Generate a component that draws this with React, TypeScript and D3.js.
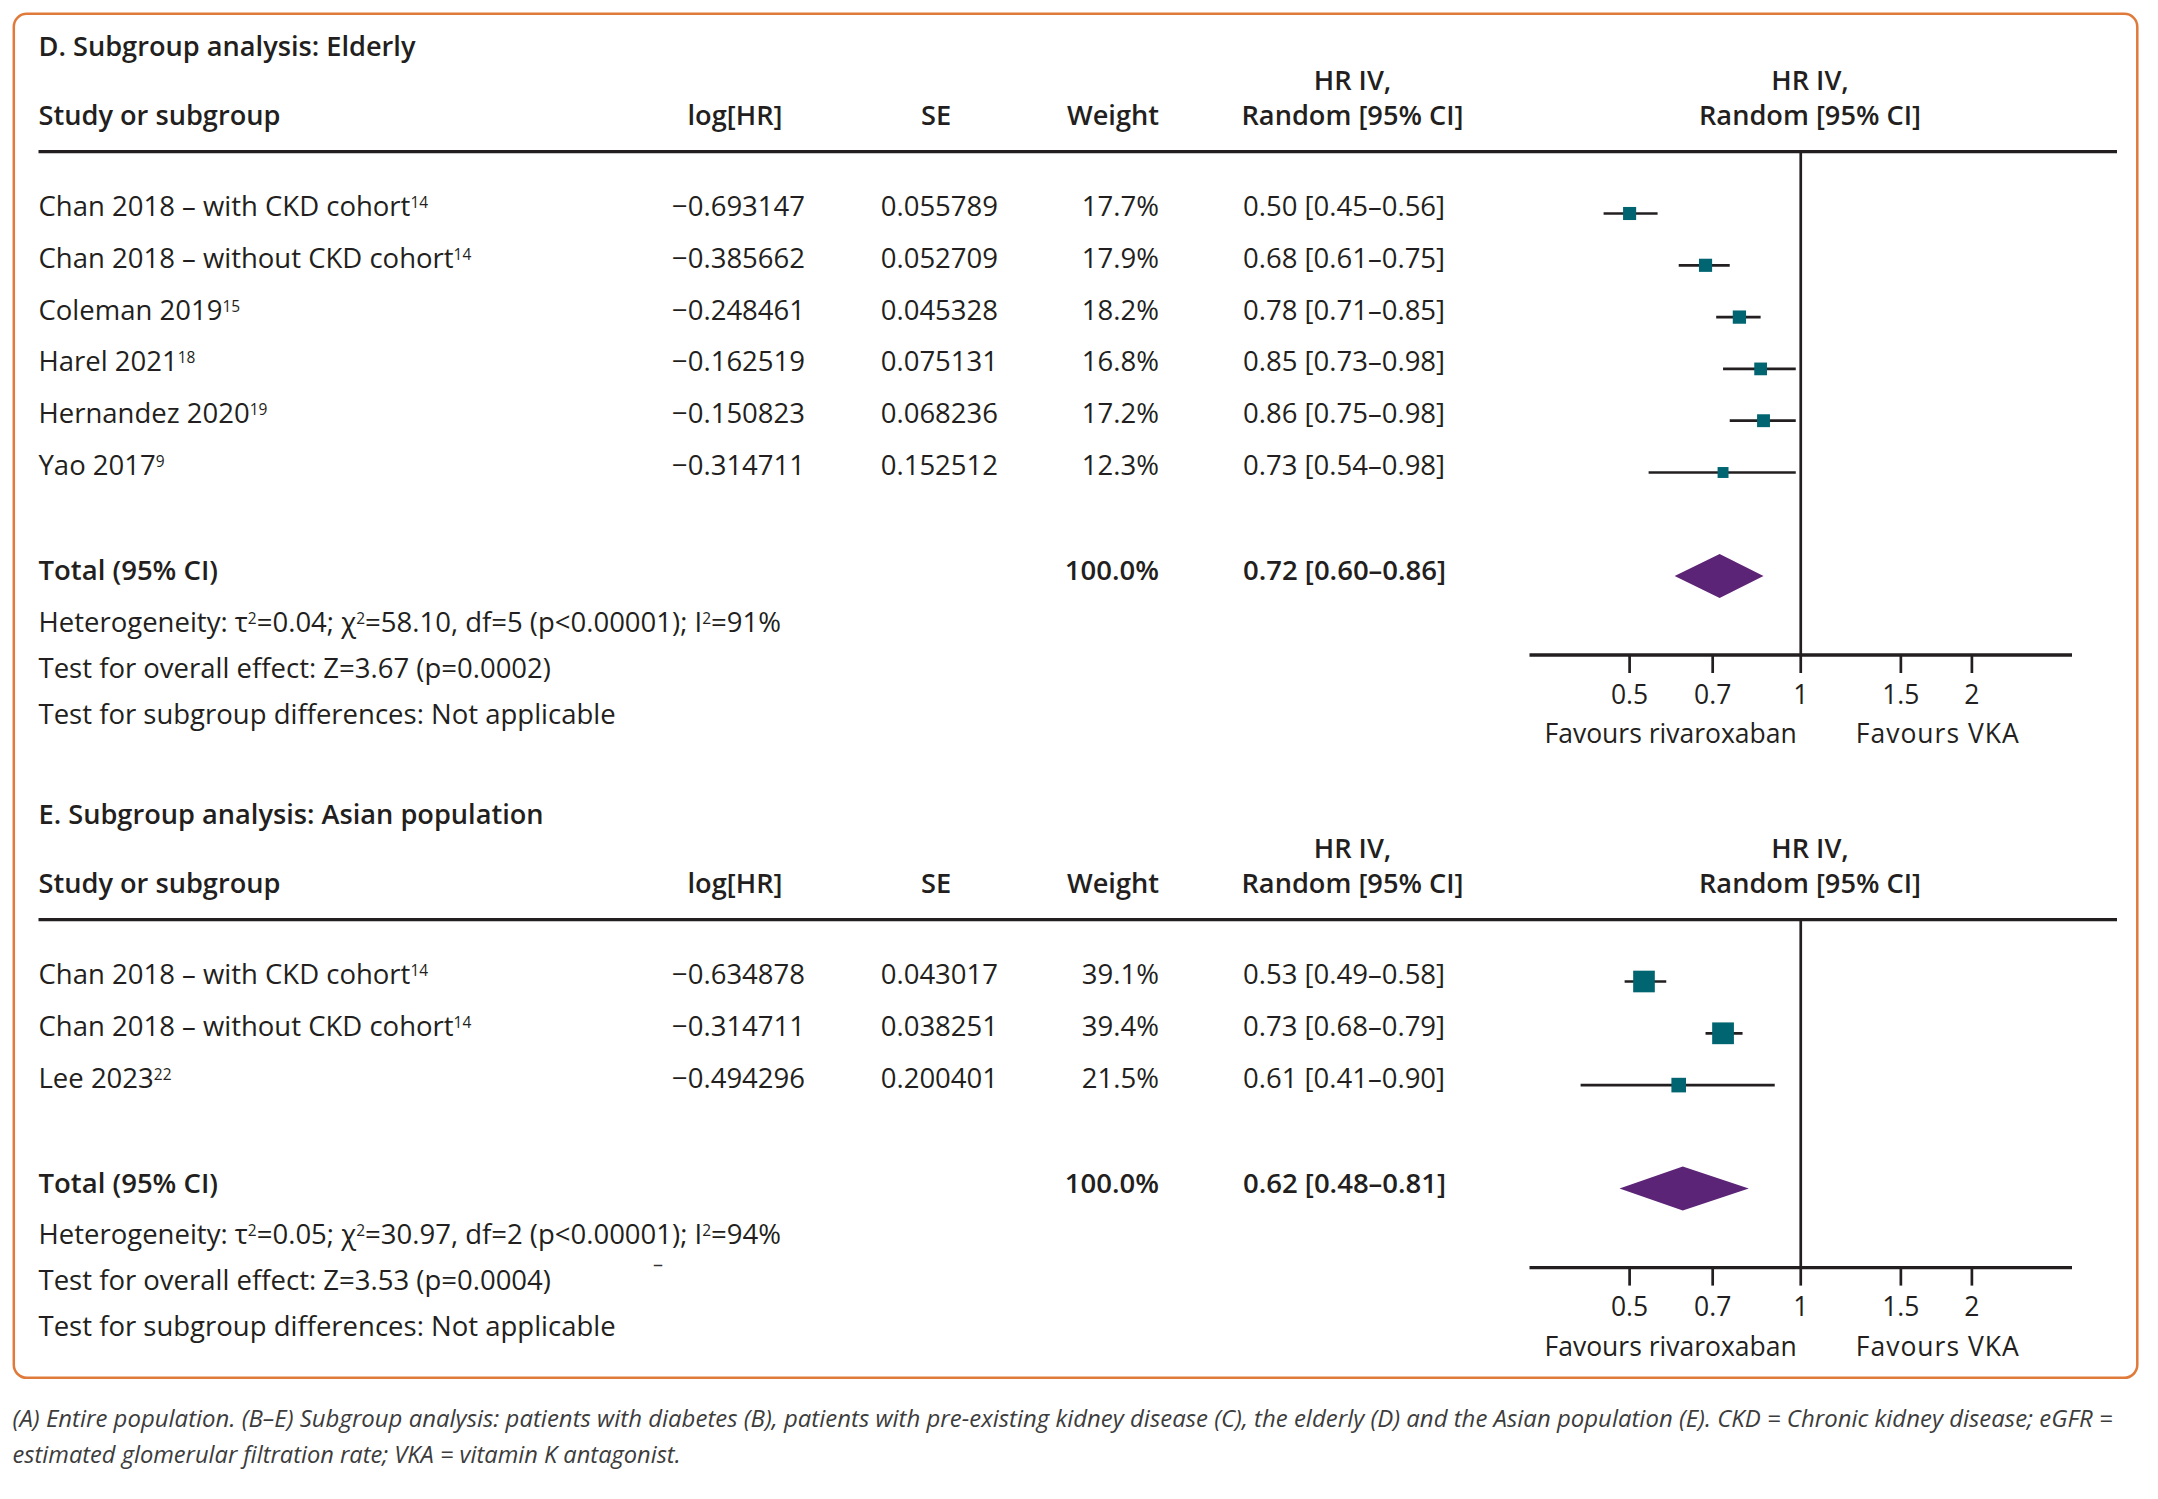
import React from "react";
import * as d3 from "d3";

// ---------- Data ----------
const elderlyStudies = [
  "Chan 2018 – with CKD cohort",
  "Chan 2018 – without CKD cohort",
  "Coleman 2019",
  "Harel 2021",
  "Hernandez 2020",
  "Yao 2017",
];
const elderlyRefs = ["14", "14", "15", "18", "19", "9"];
const elderlyLogHR = [-0.693147, -0.385662, -0.248461, -0.162519, -0.150823, -0.314711];
const elderlySE = [0.055789, 0.052709, 0.045328, 0.075131, 0.068236, 0.152512];
const elderlyWeight = [17.7, 17.9, 18.2, 16.8, 17.2, 12.3];
const elderlyHR = [0.5, 0.68, 0.78, 0.85, 0.86, 0.73];
const elderlyLow = [0.45, 0.61, 0.71, 0.73, 0.75, 0.54];
const elderlyHigh = [0.56, 0.75, 0.85, 0.98, 0.98, 0.98];
const elderlyTotal = [0.72, 0.6, 0.86];
const elderlyHet = ["0.04", "58.10", "5", "<0.00001", "91"];
const elderlyOverall = ["3.67", "0.0002"];

const asianStudies = [
  "Chan 2018 – with CKD cohort",
  "Chan 2018 – without CKD cohort",
  "Lee 2023",
];
const asianRefs = ["14", "14", "22"];
const asianLogHR = [-0.634878, -0.314711, -0.494296];
const asianSE = [0.043017, 0.038251, 0.200401];
const asianWeight = [39.1, 39.4, 21.5];
const asianHR = [0.53, 0.73, 0.61];
const asianLow = [0.49, 0.68, 0.41];
const asianHigh = [0.58, 0.79, 0.9];
const asianTotal = [0.62, 0.48, 0.81];
const asianHet = ["0.05", "30.97", "2", "<0.00001", "94"];
const asianOverall = ["3.53", "0.0004"];

const axisTicks = [0.5, 0.7, 1, 1.5, 2];
const axisTickLabels = ["0.5", "0.7", "1", "1.5", "2"];

const captionLines = [
  "(A) Entire population. (B–E) Subgroup analysis: patients with diabetes (B), patients with pre-existing kidney disease (C), the elderly (D) and the Asian population (E). CKD = Chronic kidney disease; eGFR =",
  "estimated glomerular filtration rate; VKA = vitamin K antagonist.",
];

// ---------- Style ----------
const FONT = "'Open Sans', sans-serif";
const INK = "#231f20";
const TEAL = "#006571";
const PURPLE = "#5c2476";
const ORANGE = "#e07a3a";

const W = 2158;
const H = 1499;

const fmtLog = d3.format(".6f");
const fmtSE = d3.format(".6f");
const fmtW = d3.format(".1f");
const fmtHR = d3.format(".2f");

const xScale = d3.scaleLog().domain([1 / 3, 3]).range([1529.5, 2072]);
const sizeScale = d3.scaleLinear().domain([10, 40]).range([10, 22]);

const BODY = 27.5;
const HEAD = 27.2;
const HEADW = 600;
const SUP = 15.5;

type PanelProps = {
  oy: number;
  title: string;
  studies: string[];
  refs: string[];
  logHR: number[];
  se: number[];
  weight: number[];
  hr: number[];
  low: number[];
  high: number[];
  total: number[];
  het: string[];
  overall: string[];
};

function Sup({ children }: { children: React.ReactNode }) {
  return (
    <tspan dy={-8} fontSize={SUP}>
      {children}
    </tspan>
  );
}

function Panel(p: PanelProps) {
  const { oy } = p;
  const n = p.studies.length;
  const rowY = d3.scaleLinear().domain([0, 1]).range([216 + oy, 216 + oy + 51.8]);
  const headerLineY = 151.7 + oy;
  const totalY = rowY(n - 1) + 105;
  const hetY = totalY + 51.5;
  const overallY = hetY + 46;
  const subY = overallY + 46;
  const axisY = totalY + 75;
  const x1 = xScale(1);
  const [tHR, tLo, tHi] = p.total;
  const dy = totalY - 4;
  const dh = 22;
  const diamond = [
    [xScale(tLo), dy],
    [xScale(tHR), dy - dh],
    [xScale(tHi), dy],
    [xScale(tHR), dy + dh],
  ];
  const [tau, chi, df, pv, i2] = p.het;
  return (
    <g>
      <text x={38.5} y={56 + oy} fontWeight={HEADW} fontSize={HEAD} fill={INK}>
        {p.title}
      </text>
      {/* header */}
      <g fontWeight={HEADW} fontSize={HEAD} fill={INK}>
        <text x={38.5} y={125 + oy}>Study or subgroup</text>
        <text x={735} y={125 + oy} textAnchor="middle">log[HR]</text>
        <text x={936} y={125 + oy} textAnchor="middle">SE</text>
        <text x={1159} y={125 + oy} textAnchor="end">Weight</text>
        <text x={1352.5} y={90 + oy} textAnchor="middle">HR IV,</text>
        <text x={1352.5} y={125 + oy} textAnchor="middle">Random [95% CI]</text>
        <text x={1810} y={90 + oy} textAnchor="middle">HR IV,</text>
        <text x={1810} y={125 + oy} textAnchor="middle">Random [95% CI]</text>
      </g>
      <line x1={38.5} x2={2117} y1={headerLineY} y2={headerLineY} stroke={INK} strokeWidth={3.3} />
      {/* null line */}
      <line x1={x1} x2={x1} y1={headerLineY} y2={axisY} stroke={INK} strokeWidth={2.7} />
      {/* rows */}
      <g fontSize={BODY} fill={INK}>
        {p.studies.map((s, i) => {
          const y = rowY(i);
          return (
            <g key={i}>
              <text x={38.5} y={y}>
                {s}
                <Sup>{p.refs[i]}</Sup>
              </text>
              <text x={805} y={y} textAnchor="end">{fmtLog(p.logHR[i])}</text>
              <text x={998} y={y} textAnchor="end">{fmtSE(p.se[i])}</text>
              <text x={1159} y={y} textAnchor="end">{fmtW(p.weight[i]) + "%"}</text>
              <text x={1243} y={y}>
                {`${fmtHR(p.hr[i])} [${fmtHR(p.low[i])}–${fmtHR(p.high[i])}]`}
              </text>
            </g>
          );
        })}
      </g>
      {/* markers */}
      {p.studies.map((s, i) => {
        const y = rowY(i) - 2.5;
        const sz = sizeScale(p.weight[i]);
        const cx = xScale(p.hr[i]);
        return (
          <g key={"m" + i}>
            <line x1={xScale(p.low[i])} x2={xScale(p.high[i])} y1={y} y2={y} stroke={INK} strokeWidth={2.7} />
            <rect x={cx - sz / 2} y={y - sz / 2} width={sz} height={sz} fill={TEAL} />
          </g>
        );
      })}
      {/* total */}
      <g fontSize={BODY} fill={INK} fontWeight={HEADW}>
        <text x={38.5} y={totalY}>Total (95% CI)</text>
        <text x={1159} y={totalY} textAnchor="end">100.0%</text>
        <text x={1243} y={totalY}>{`${fmtHR(tHR)} [${fmtHR(tLo)}–${fmtHR(tHi)}]`}</text>
      </g>
      <polygon points={diamond.map((d) => d.join(",")).join(" ")} fill={PURPLE} />
      <g fontSize={BODY} fill={INK}>
        <text x={38.5} y={hetY}>
          {"Heterogeneity: τ"}
          <Sup>2</Sup>
          <tspan dy={8}>{`=${tau}; χ`}</tspan>
          <Sup>2</Sup>
          <tspan dy={8}>{`=${chi}, df=${df} (p${pv}); I`}</tspan>
          <Sup>2</Sup>
          <tspan dy={8}>{`=${i2}%`}</tspan>
        </text>
        <text x={38.5} y={overallY}>
          {`Test for overall effect: Z=${p.overall[0]} (p=${p.overall[1]})`}
        </text>
        <text x={38.5} y={subY}>Test for subgroup differences: Not applicable</text>
      </g>
      {/* axis */}
      <line x1={xScale.range()[0]} x2={xScale.range()[1]} y1={axisY} y2={axisY} stroke={INK} strokeWidth={3.4} />
      {axisTicks.map((t, i) => (
        <g key={"t" + i}>
          <line x1={xScale(t)} x2={xScale(t)} y1={axisY} y2={axisY + 18} stroke={INK} strokeWidth={2.7} />
          <text x={xScale(t)} y={axisY + 48.5} textAnchor="middle" fontSize={26.5} fill={INK}>
            {axisTickLabels[i]}
          </text>
        </g>
      ))}
      <text x={x1 - 4} y={axisY + 88} textAnchor="end" fontSize={26.5} fill={INK}>
        Favours rivaroxaban
      </text>
      <text x={x1 + 55} y={axisY + 88} fontSize={26.5} fill={INK} textLength={163} lengthAdjust="spacing">
        Favours VKA
      </text>
    </g>
  );
}

export default function App() {
  return (
    <svg
      width={W}
      height={H}
      viewBox={`0 0 ${W} ${H}`}
      style={{ position: "absolute", left: 0, top: 0, background: "#fff" }}
      fontFamily={FONT}
    >
      <rect x={0} y={0} width={W} height={H} fill="#fff" />
      <rect x={13.8} y={13.8} width={2123.5} height={1364} rx={13} ry={13} fill="none" stroke={ORANGE} strokeWidth={2.5} />
      <Panel
        oy={0}
        title="D. Subgroup analysis: Elderly"
        studies={elderlyStudies}
        refs={elderlyRefs}
        logHR={elderlyLogHR}
        se={elderlySE}
        weight={elderlyWeight}
        hr={elderlyHR}
        low={elderlyLow}
        high={elderlyHigh}
        total={elderlyTotal}
        het={elderlyHet}
        overall={elderlyOverall}
      />
      <Panel
        oy={768}
        title="E. Subgroup analysis: Asian population"
        studies={asianStudies}
        refs={asianRefs}
        logHR={asianLogHR}
        se={asianSE}
        weight={asianWeight}
        hr={asianHR}
        low={asianLow}
        high={asianHigh}
        total={asianTotal}
        het={asianHet}
        overall={asianOverall}
      />
      <text x={653} y={1271} fontSize={20} fill="#333">–</text>
      <g fontStyle="italic" fontSize={23} fill="#3c3c3c">
        <text x={12.6} y={1426.7} textLength={2100} lengthAdjust="spacingAndGlyphs">
          {captionLines[0]}
        </text>
        <text x={12.6} y={1463} textLength={668} lengthAdjust="spacingAndGlyphs">
          {captionLines[1]}
        </text>
      </g>
    </svg>
  );
}
